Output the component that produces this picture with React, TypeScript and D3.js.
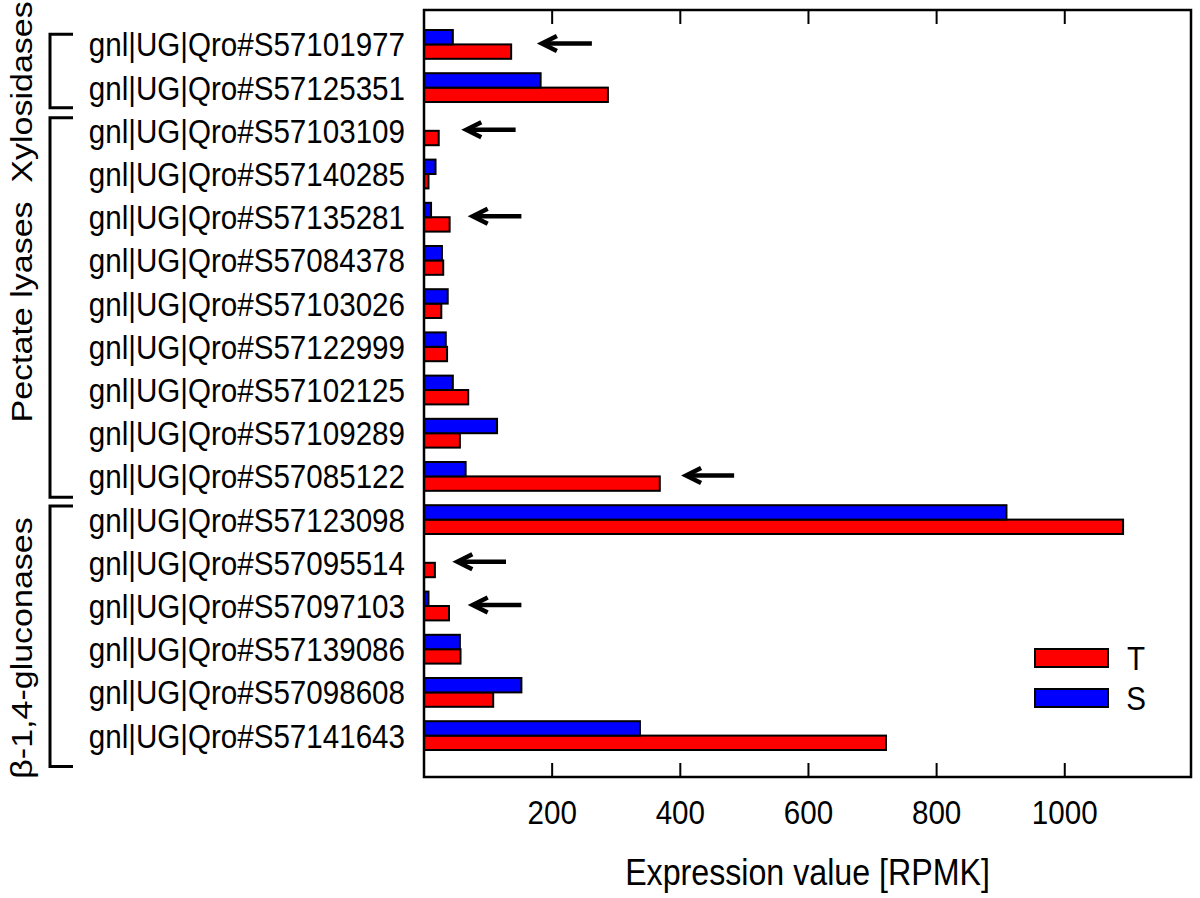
import React from "react";
import * as d3 from "d3";

// Categories listed top-to-bottom as they appear in the chart
const categories = [
  "gnl|UG|Qro#S57101977",
  "gnl|UG|Qro#S57125351",
  "gnl|UG|Qro#S57103109",
  "gnl|UG|Qro#S57140285",
  "gnl|UG|Qro#S57135281",
  "gnl|UG|Qro#S57084378",
  "gnl|UG|Qro#S57103026",
  "gnl|UG|Qro#S57122999",
  "gnl|UG|Qro#S57102125",
  "gnl|UG|Qro#S57109289",
  "gnl|UG|Qro#S57085122",
  "gnl|UG|Qro#S57123098",
  "gnl|UG|Qro#S57095514",
  "gnl|UG|Qro#S57097103",
  "gnl|UG|Qro#S57139086",
  "gnl|UG|Qro#S57098608",
  "gnl|UG|Qro#S57141643",
];

// Series T (red) and S (blue), same order as categories
const valuesT = [136, 287, 23, 7, 40, 30, 27, 36, 69, 56, 368, 1091, 17, 39, 57, 108, 721];
const valuesS = [45, 182, 0, 18, 11, 28, 37, 34, 45, 114, 65, 909, 0, 7, 56, 152, 337];

const seriesNames = ["T", "S"];
const seriesColors = ["#FF0000", "#0000FF"];

const xTicks = [200, 400, 600, 800, 1000];
const xMax = 1197;

// Arrow annotations: category, head value, tail value
const arrowCats = [
  "gnl|UG|Qro#S57101977",
  "gnl|UG|Qro#S57103109",
  "gnl|UG|Qro#S57135281",
  "gnl|UG|Qro#S57085122",
  "gnl|UG|Qro#S57095514",
  "gnl|UG|Qro#S57097103",
];
const arrowHeads = [184, 66, 76, 409, 52, 76];
const arrowTails = [262, 143, 152, 484, 128, 152];

// Gene family groups (first and last category, top-to-bottom)
const groupLabels = ["Xylosidases", "Pectate lyases", "\u03b2-1,4-gluconases"];
const groupFirst = [0, 2, 11];
const groupLast = [1, 10, 16];

const W = 1200;
const H = 898;
const plot = { left: 424, right: 1191, top: 10, bottom: 777 };
const FONT = "'Liberation Sans', Arial, sans-serif";
const SX = 0.87; // horizontal squeeze of the text
const bracketPadTop = [0.7, 0.9, 0.95];
const bracketPadBottom = [1.4, 1.45, 2.15];
const groupLabelY = [92, 312, 648];

export default function App() {
  const n = categories.length;
  const x = d3.scaleLinear().domain([0, xMax]).range([plot.left, plot.right]);
  // bar units: group i (from bottom) occupies units 1+3i..3+3i
  const y = d3.scaleLinear().domain([-0.875, 52.39]).range([plot.bottom, plot.top]);

  const idxFromBottom = (k: number) => n - 1 - k;
  const center = (k: number) => 2 + 3 * idxFromBottom(k);

  const bars: { k: number; s: number; v: number }[] = [];
  categories.forEach((_, k) => {
    bars.push({ k, s: 0, v: valuesT[k] });
    bars.push({ k, s: 1, v: valuesS[k] });
  });

  const labelSize = 34;

  return (
    <svg
      width={W}
      height={H}
      style={{ position: "absolute", left: 0, top: 0, background: "#fff" }}
      fontFamily={FONT}
    >
      <rect x={0} y={0} width={W} height={H} fill="#fff" />
      {/* bars */}
      {bars.map((b, i) => {
        if (b.v <= 0) return null;
        const u0 = center(b.k) - 1 + b.s; // red lower, blue upper
        const yTop = y(u0 + 1);
        const yBot = y(u0);
        return (
          <rect
            key={i}
            x={x(0)}
            y={yTop}
            width={x(b.v) - x(0)}
            height={yBot - yTop}
            fill={seriesColors[b.s]}
            stroke="#000"
            strokeWidth={2}
          />
        );
      })}
      {/* frame */}
      <rect
        x={plot.left}
        y={plot.top}
        width={plot.right - plot.left}
        height={plot.bottom - plot.top}
        fill="none"
        stroke="#000"
        strokeWidth={2.5}
      />
      {/* ticks */}
      {xTicks.map((t) => (
        <g key={t}>
          <line x1={x(t)} x2={x(t)} y1={plot.bottom} y2={plot.bottom - 14} stroke="#000" strokeWidth={2} />
          <line x1={x(t)} x2={x(t)} y1={plot.top} y2={plot.top + 14} stroke="#000" strokeWidth={2} />
          <text
            transform={`translate(${x(t)},${plot.bottom + 47}) scale(${SX},1)`}
            textAnchor="middle"
            fontSize={labelSize}
          >
            {t}
          </text>
        </g>
      ))}
      {/* x axis title */}
      <text
        transform={`translate(${(plot.left + plot.right) / 2},${885}) scale(${SX},1)`}
        textAnchor="middle"
        fontSize={37}
      >
        Expression value [RPMK]
      </text>
      {/* category labels */}
      {categories.map((c, k) => (
        <text
          key={c}
          transform={`translate(${405},${y(center(k)) + 12}) scale(${SX},1)`}
          textAnchor="end"
          fontSize={labelSize}
        >
          {c}
        </text>
      ))}
      {/* arrows */}
      {arrowCats.map((c, i) => {
        const k = categories.indexOf(c);
        const yy = y(center(k)) - 1;
        const hx = x(arrowHeads[i]);
        const tx = x(arrowTails[i]);
        return (
          <g key={c} stroke="#000" strokeWidth={4.5} fill="none" strokeLinecap="butt">
            <line x1={hx + 2} x2={tx} y1={yy} y2={yy} />
            <path d={`M${hx + 15},${yy - 7.5} L${hx},${yy} L${hx + 15},${yy + 7.5}`} />
          </g>
        );
      })}
      {/* group brackets */}
      {groupLabels.map((g, i) => {
        const top = y(center(groupFirst[i]) + bracketPadTop[i]);
        const bot = y(center(groupLast[i]) - bracketPadBottom[i]);
        return (
          <path
            key={g}
            d={`M73,${top} H50 V${bot} H73`}
            fill="none"
            stroke="#000"
            strokeWidth={3}
          />
        );
      })}
      {groupLabels.map((g, i) => (
        <text
          key={g}
          transform={`translate(${22},${groupLabelY[i]}) scale(${SX},1) rotate(-90)`}
          textAnchor="middle"
          dominantBaseline="central"
          fontSize={labelSize}
        >
          {g}
        </text>
      ))}
      {/* legend */}
      {seriesNames.map((s, i) => (
        <g key={s}>
          <rect
            x={1035}
            y={649 + i * 40}
            width={73}
            height={18}
            fill={seriesColors[i]}
            stroke="#000"
            strokeWidth={2}
          />
          <text
            transform={`translate(${1136},${658 + i * 40 + 12}) scale(${SX},1)`}
            textAnchor="middle"
            fontSize={labelSize}
          >
            {s}
          </text>
        </g>
      ))}
    </svg>
  );
}
